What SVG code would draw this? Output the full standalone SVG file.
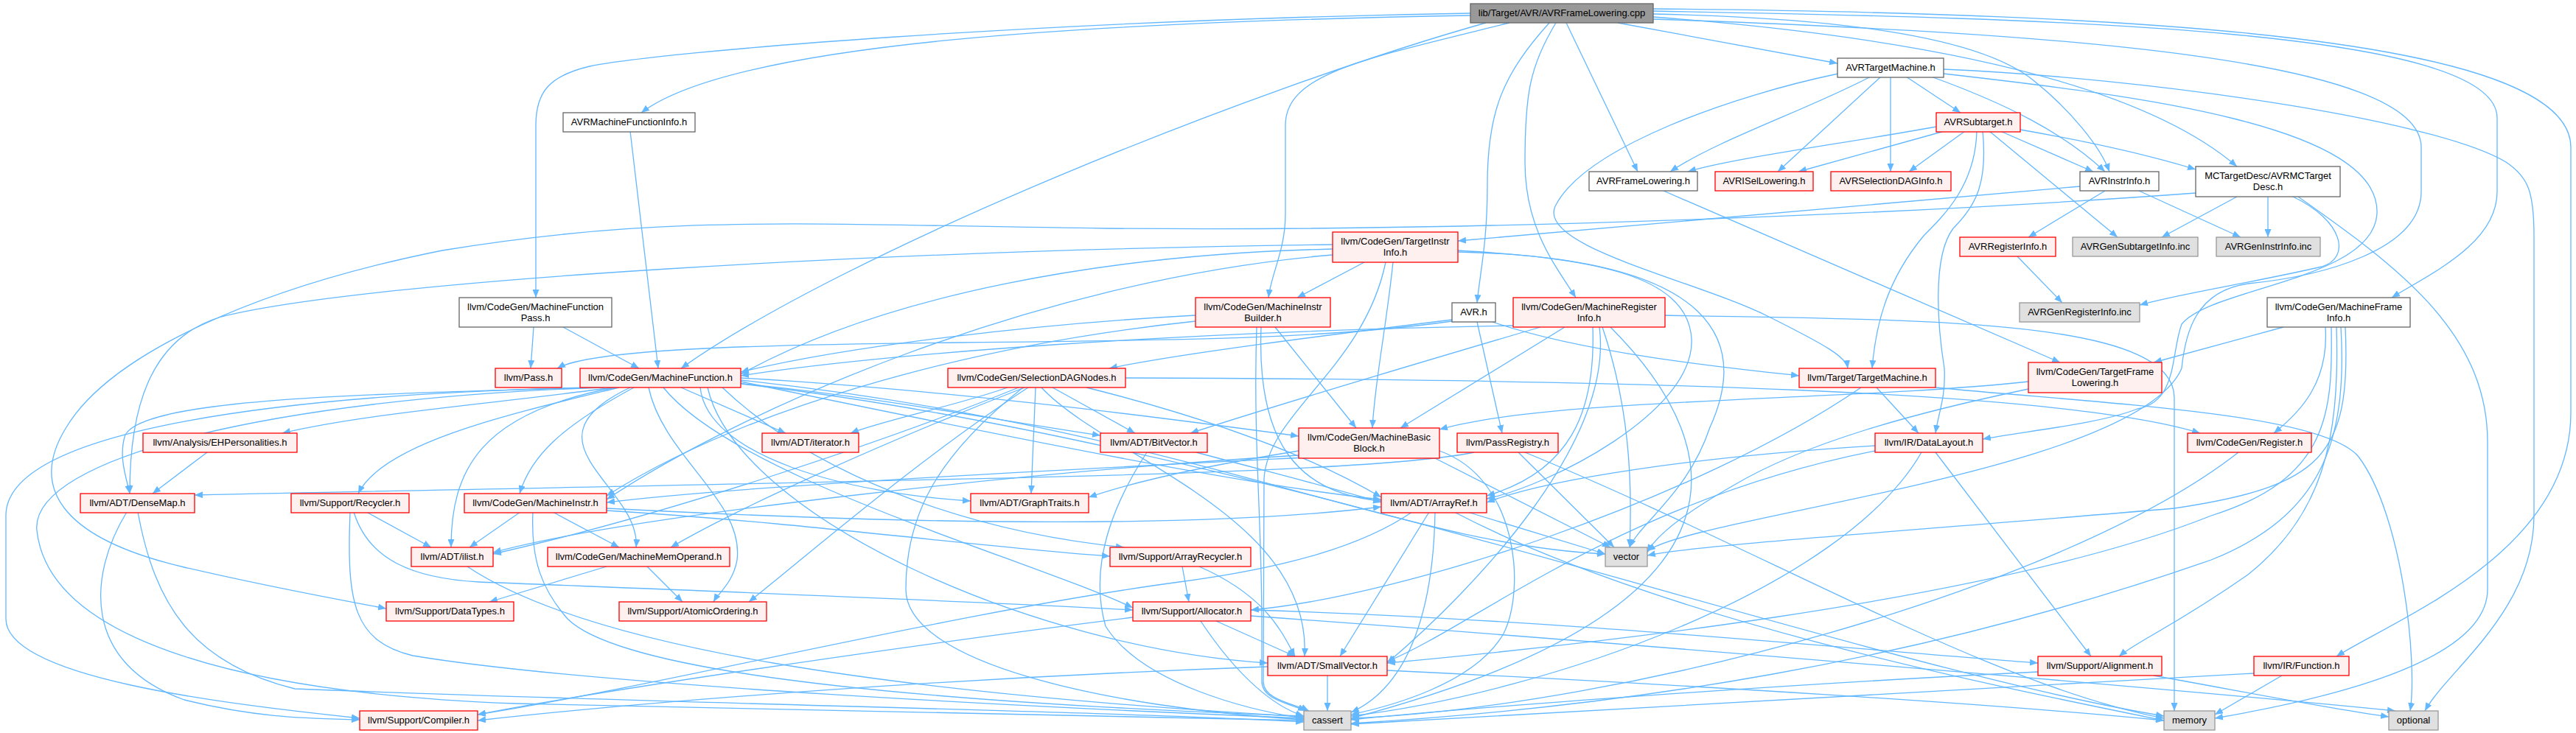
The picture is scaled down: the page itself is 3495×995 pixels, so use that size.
<svg xmlns="http://www.w3.org/2000/svg" width="3495" height="995" viewBox="0 0 3495 995">
<style>
text{font-family:"Liberation Sans",Arial,Helvetica,sans-serif;font-size:13px;text-anchor:middle;fill:#000}
rect{stroke-width:1.3}
.r{fill:#FFF0F0;stroke:#FF0000}
.w{fill:#FFFFFF;stroke:#666666}
.g{fill:#E0E0E0;stroke:#999999}
.t{fill:#999999;stroke:#666666}
#edges path{fill:none;stroke:#63B8FF;stroke-width:1.3;marker-end:url(#ah)}
</style>
<defs>
<marker id="ah" markerUnits="userSpaceOnUse" markerWidth="11" markerHeight="9" refX="11" refY="4.5" orient="auto" viewBox="0 0 11 9"><path d="M0,0L11,4.5L0,9z" fill="#63B8FF"/></marker>
</defs>
<rect x="0" y="0" width="3495" height="995" fill="#FFFFFF"/>
<g id="edges">
<path d="M1995,21 C1500,30 1000,55 870,153"/>
<path d="M1995,18 C1400,28 900,70 800,90 C745,103 727,125 727,170 L727,404"/>
<path d="M2016,31 C1700,120 1150,340 924,500"/>
<path d="M2048,31 C1850,80 1744,100 1744,170 L1744,290 C1744,340 1725,370 1721,404"/>
<path d="M2102,31 C2040,100 2018,150 2018,250 C2018,330 2008,370 2004,411"/>
<path d="M2111,31 C2075,90 2069,130 2069,220 C2069,310 2110,360 2138,404"/>
<path d="M2125,31 L2222,233"/>
<path d="M2195,31 C2300,50 2400,68 2493,86"/>
<path d="M2243,19 C2550,25 2700,60 2760,110 C2810,150 2850,200 2862,233"/>
<path d="M2243,23 C2600,50 2900,110 3035,226"/>
<path d="M2243,15 C2800,25 3388,40 3388,160 L3388,260 C3388,330 3300,370 3245,404"/>
<path d="M2243,12 C2900,18 3488,50 3488,200 L3488,560 C3488,750 3250,840 3170,891"/>
<path d="M2243,26 C2800,45 3285,80 3285,200 L3285,260 C3285,340 3150,375 3050,385 C2980,395 2965,450 2960,500 C2900,640 2300,700 2235,748"/>
<path d="M2538,104 C2450,150 2330,190 2266,233"/>
<path d="M2494,100 C2350,130 2150,200 2110,280 C2085,335 2300,380 2400,430 C2480,470 2505,485 2507,500"/>
<path d="M2552,104 L2412,233"/>
<path d="M2565,104 L2565,233"/>
<path d="M2586,104 L2660,153"/>
<path d="M2620,104 C2720,140 2800,180 2856,233"/>
<path d="M2637,94 C2900,105 3300,160 3400,220 C3430,240 3438,260 3438,320 L3438,700 C3438,830 3320,910 3290,965"/>
<path d="M2637,100 C2900,130 3230,170 3225,290 C3220,380 3000,390 2960,440 C2945,480 2955,545 2900,555 C2850,575 2750,585 2690,596"/>
<path d="M855,178 L893,500"/>
<path d="M2627,172 C2500,195 2350,215 2290,233"/>
<path d="M2638,178 L2440,233"/>
<path d="M2666,178 L2590,233"/>
<path d="M2714,178 L2840,233"/>
<path d="M2699,178 L2873,322"/>
<path d="M2741,176 C2850,195 2920,212 2979,230"/>
<path d="M2682,178 C2680,250 2640,290 2610,320 C2560,380 2545,440 2540,500"/>
<path d="M2690,178 C2697,250 2680,280 2650,310 C2620,350 2630,450 2638,500 C2640,540 2630,560 2626,588"/>
<path d="M2257,259 L2795,492"/>
<path d="M2822,253 C2500,280 2200,310 1978,327"/>
<path d="M2856,259 L2752,322"/>
<path d="M2902,259 L3040,322"/>
<path d="M3035,267 L2933,322"/>
<path d="M3077,267 L3077,322"/>
<path d="M3111,267 C3180,300 3190,350 3150,362 C3050,385 2960,398 2903,414"/>
<path d="M3118,267 C3250,360 3375,450 3375,600 L3375,800 C3375,900 3150,950 3005,975"/>
<path d="M2979,262 C2600,290 2000,315 1500,310 C1100,305 900,290 600,340 C350,390 150,480 90,580 C40,660 80,730 250,770 C380,800 450,812 524,826"/>
<path d="M1851,356 L1760,404"/>
<path d="M1808,338 C1500,345 1200,400 1005,508"/>
<path d="M1890,356 C1880,450 1865,520 1862,581"/>
<path d="M1808,346 C1400,380 1000,560 823,678"/>
<path d="M1978,340 C2150,350 2290,370 2295,460 C2300,560 2100,660 2017,677"/>
<path d="M1808,332 C1200,340 500,380 300,430 C200,460 176,560 176,670"/>
<path d="M1880,356 C1850,500 1720,560 1715,650 L1714,925 C1714,950 1755,955 1776,965"/>
<path d="M1978,342 C2340,350 2370,470 2320,580 C2290,670 2225,710 2211,743"/>
<path d="M2737,348 L2798,411"/>
<path d="M724,444 L720,500"/>
<path d="M764,444 L867,500"/>
<path d="M1622,428 C1400,440 1150,470 1005,505"/>
<path d="M1622,436 C1300,470 1000,560 823,673"/>
<path d="M1730,444 L1840,581"/>
<path d="M1711,444 C1705,600 1760,670 1874,680"/>
<path d="M1705,444 C1700,600 1712,700 1712,850 L1712,925 C1712,950 1750,955 1772,965"/>
<path d="M1970,434 C1800,455 1600,480 1505,500"/>
<path d="M1970,436 C1800,460 1600,462 1300,465 C1000,468 800,475 756,500"/>
<path d="M2004,437 L2038,588"/>
<path d="M2025,437 C2150,480 2350,500 2441,510"/>
<path d="M2053,442 C1600,450 1200,480 1005,510"/>
<path d="M2090,444 C1900,500 1700,560 1615,588"/>
<path d="M2123,444 L1900,581"/>
<path d="M2161,444 C2165,560 2130,640 2017,673"/>
<path d="M2170,444 C2190,600 2000,800 1882,900"/>
<path d="M2174,444 C2210,550 2215,650 2211,743"/>
<path d="M2185,444 C2360,620 2380,830 1833,975"/>
<path d="M2259,428 C2600,435 2950,430 2950,540 L2950,965"/>
<path d="M3098,444 L2922,492"/>
<path d="M3155,444 C3160,520 3120,560 3085,588"/>
<path d="M3163,444 C3165,560 3160,650 3000,700 C2700,820 2100,880 1882,900"/>
<path d="M3170,444 C3175,600 3150,700 3050,780 C2950,850 2900,870 2875,891"/>
<path d="M3176,444 C3185,600 3150,700 3000,760 C2600,900 2200,960 1833,982"/>
<path d="M3182,444 C3190,620 3150,660 2950,690 C2600,720 2300,740 2235,754"/>
<path d="M830,526 C700,545 500,560 383,588"/>
<path d="M812,526 C500,535 200,540 170,590 C160,620 172,650 176,670"/>
<path d="M840,526 C700,560 520,600 486,670"/>
<path d="M800,526 C400,535 8,580 8,700 L8,840 C8,920 300,955 488,975"/>
<path d="M820,526 C380,540 40,620 50,720 C65,860 300,940 700,955 C1200,965 1600,975 1769,978"/>
<path d="M860,526 C760,580 720,620 705,670"/>
<path d="M835,526 C650,560 612,640 612,743"/>
<path d="M855,526 C700,600 870,660 863,743"/>
<path d="M880,526 C900,620 1010,680 1000,760 C995,790 975,805 968,817"/>
<path d="M924,526 L1066,588"/>
<path d="M950,526 C960,620 1150,670 1317,680"/>
<path d="M1000,520 C1200,540 1350,570 1493,591"/>
<path d="M1005,513 C1300,530 1600,570 1762,592"/>
<path d="M1005,518 C1400,600 1700,660 1874,678"/>
<path d="M960,526 C1000,700 1400,880 1720,900"/>
<path d="M980,526 C1100,640 1300,720 1525,743"/>
<path d="M900,526 C1000,650 1400,760 1537,825"/>
<path d="M1005,521 C1700,600 2500,900 2936,972"/>
<path d="M1005,516 C1600,580 1900,740 2178,752"/>
<path d="M1367,526 C1300,550 1200,570 1154,588"/>
<path d="M1382,526 C1200,600 900,700 669,752"/>
<path d="M1390,526 C1200,600 1000,690 910,743"/>
<path d="M1395,526 C1250,620 1100,750 1016,817"/>
<path d="M1388,526 C1270,620 1229,700 1229,800 C1229,900 1500,960 1769,977"/>
<path d="M1405,526 L1399,670"/>
<path d="M1428,526 L1540,588"/>
<path d="M1413,526 C1500,620 1780,700 1770,891"/>
<path d="M1474,526 C1650,570 1780,620 1874,675"/>
<path d="M1527,513 C2200,515 2800,530 2985,588"/>
<path d="M2546,526 L2603,588"/>
<path d="M2525,526 C2300,680 1900,810 1697,828"/>
<path d="M2626,526 C2850,548 3150,560 3200,620 C3260,700 3280,900 3270,965"/>
<path d="M2752,518 C2500,545 2100,540 1953,583"/>
<path d="M2752,528 C2600,560 2450,600 2350,660 C2280,700 2245,730 2235,750"/>
<path d="M281,614 L207,670"/>
<path d="M1623,614 C1720,640 1800,660 1874,682"/>
<path d="M1556,614 C1500,700 1480,780 1500,850 C1550,930 1700,965 1769,975"/>
<path d="M1762,612 C1650,630 1550,650 1477,675"/>
<path d="M1762,618 C1400,640 850,700 669,750"/>
<path d="M1770,621 C1400,640 1000,660 823,682"/>
<path d="M1945,621 L2185,743"/>
<path d="M1953,612 C2060,650 2070,800 2040,860 C2000,930 1880,960 1833,970"/>
<path d="M2000,614 C1850,645 1300,650 264,672"/>
<path d="M2060,614 L2190,743"/>
<path d="M2069,614 C2400,750 2700,930 2936,975"/>
<path d="M2544,605 C2300,620 2100,650 2017,682"/>
<path d="M2544,612 C2200,680 2000,850 1882,898"/>
<path d="M2607,614 C2500,800 2100,940 1833,972"/>
<path d="M2626,614 L2837,891"/>
<path d="M3037,614 C2800,800 2200,960 1833,975"/>
<path d="M172,695 C120,780 110,900 250,950 C350,975 420,975 488,977"/>
<path d="M187,695 C210,820 260,900 400,935 C900,955 1500,965 1769,980"/>
<path d="M497,695 L585,743"/>
<path d="M480,695 C500,760 560,785 650,790 C900,800 1300,815 1537,828"/>
<path d="M475,695 C470,820 480,870 560,890 C800,930 1400,960 1769,975"/>
<path d="M706,695 L637,743"/>
<path d="M750,695 L840,743"/>
<path d="M723,695 C720,760 735,800 770,840 C850,920 1300,955 1769,972"/>
<path d="M823,690 C1300,715 1650,715 1874,688"/>
<path d="M823,693 C1100,710 1350,745 1506,755"/>
<path d="M1939,695 L1818,891"/>
<path d="M1916,695 C1850,740 1750,770 1600,790 C1300,830 900,930 648,970"/>
<path d="M1947,695 C1945,820 1915,930 1833,967"/>
<path d="M1991,695 L2178,752"/>
<path d="M1973,695 C2250,840 2700,930 2936,978"/>
<path d="M634,769 C800,880 1200,940 1769,973"/>
<path d="M823,769 L664,817"/>
<path d="M878,769 L926,817"/>
<path d="M1604,769 L1613,817"/>
<path d="M1627,769 C1720,810 1740,860 1757,891"/>
<path d="M1650,843 L1757,891"/>
<path d="M1629,843 C1680,920 1730,960 1769,972"/>
<path d="M1537,838 C1200,880 800,940 648,970"/>
<path d="M1697,828 C2100,840 2500,880 2765,900"/>
<path d="M1697,836 C2300,880 3000,940 3250,965"/>
<path d="M1801,917 L1801,965"/>
<path d="M1720,905 C1300,920 900,950 648,978"/>
<path d="M1882,910 C2300,930 2700,955 2936,978"/>
<path d="M2765,912 C2400,930 2000,960 1833,977"/>
<path d="M2922,917 C3050,940 3150,960 3241,973"/>
<path d="M3096,917 L3005,970"/>
<path d="M3058,914 C2600,940 2100,965 1833,983"/>
</g>
<g id="n0"><rect class="t" x="1995" y="5" width="248" height="26"/><text x="2119" y="22">lib/Target/AVR/AVRFrameLowering.cpp</text></g>
<g id="n1"><rect class="w" x="2493" y="79" width="144" height="26"/><text x="2565" y="96">AVRTargetMachine.h</text></g>
<g id="n2"><rect class="w" x="764" y="153" width="179" height="26"/><text x="853.5" y="170">AVRMachineFunctionInfo.h</text></g>
<g id="n3"><rect class="r" x="2627" y="153" width="114" height="26"/><text x="2684" y="170">AVRSubtarget.h</text></g>
<g id="n4"><rect class="w" x="2156" y="233" width="147" height="26"/><text x="2229.5" y="250">AVRFrameLowering.h</text></g>
<g id="n5"><rect class="r" x="2327" y="233" width="133" height="26"/><text x="2393.5" y="250">AVRISelLowering.h</text></g>
<g id="n6"><rect class="r" x="2484" y="233" width="163" height="26"/><text x="2565.5" y="250">AVRSelectionDAGInfo.h</text></g>
<g id="n7"><rect class="w" x="2822" y="233" width="107" height="26"/><text x="2875.5" y="250">AVRInstrInfo.h</text></g>
<g id="n8"><rect class="w" x="2979" y="226" width="196" height="41"/><text x="3077" y="243">MCTargetDesc/AVRMCTarget</text><text x="3077" y="258">Desc.h</text></g>
<g id="n9"><rect class="r" x="1808" y="315" width="170" height="41"/><text x="1893" y="332">llvm/CodeGen/TargetInstr</text><text x="1893" y="347">Info.h</text></g>
<g id="n10"><rect class="r" x="2659" y="322" width="130" height="26"/><text x="2724" y="339">AVRRegisterInfo.h</text></g>
<g id="n11"><rect class="g" x="2812" y="322" width="170" height="26"/><text x="2897" y="339">AVRGenSubtargetInfo.inc</text></g>
<g id="n12"><rect class="g" x="3007" y="322" width="141" height="26"/><text x="3077.5" y="339">AVRGenInstrInfo.inc</text></g>
<g id="n13"><rect class="w" x="623" y="404" width="207" height="40"/><text x="726.5" y="421">llvm/CodeGen/MachineFunction</text><text x="726.5" y="436">Pass.h</text></g>
<g id="n14"><rect class="r" x="1622" y="404" width="183" height="40"/><text x="1713.5" y="421">llvm/CodeGen/MachineInstr</text><text x="1713.5" y="436">Builder.h</text></g>
<g id="n15"><rect class="w" x="1970" y="411" width="59" height="26"/><text x="1999.5" y="428">AVR.h</text></g>
<g id="n16"><rect class="r" x="2053" y="404" width="206" height="40"/><text x="2156" y="421">llvm/CodeGen/MachineRegister</text><text x="2156" y="436">Info.h</text></g>
<g id="n17"><rect class="g" x="2740" y="411" width="163" height="26"/><text x="2821.5" y="428">AVRGenRegisterInfo.inc</text></g>
<g id="n18"><rect class="w" x="3076" y="404" width="194" height="40"/><text x="3173" y="421">llvm/CodeGen/MachineFrame</text><text x="3173" y="436">Info.h</text></g>
<g id="n19"><rect class="r" x="672" y="500" width="90" height="26"/><text x="717" y="517">llvm/Pass.h</text></g>
<g id="n20"><rect class="r" x="787" y="500" width="218" height="26"/><text x="896" y="517">llvm/CodeGen/MachineFunction.h</text></g>
<g id="n21"><rect class="r" x="1286" y="500" width="241" height="26"/><text x="1406.5" y="517">llvm/CodeGen/SelectionDAGNodes.h</text></g>
<g id="n22"><rect class="r" x="2441" y="500" width="185" height="26"/><text x="2533.5" y="517">llvm/Target/TargetMachine.h</text></g>
<g id="n23"><rect class="r" x="2752" y="492" width="181" height="41"/><text x="2842.5" y="509">llvm/CodeGen/TargetFrame</text><text x="2842.5" y="524">Lowering.h</text></g>
<g id="n24"><rect class="r" x="194" y="588" width="209" height="26"/><text x="298.5" y="605">llvm/Analysis/EHPersonalities.h</text></g>
<g id="n25"><rect class="r" x="1034" y="588" width="131" height="26"/><text x="1099.5" y="605">llvm/ADT/iterator.h</text></g>
<g id="n26"><rect class="r" x="1493" y="588" width="145" height="26"/><text x="1565.5" y="605">llvm/ADT/BitVector.h</text></g>
<g id="n27"><rect class="r" x="1762" y="581" width="191" height="41"/><text x="1857.5" y="598">llvm/CodeGen/MachineBasic</text><text x="1857.5" y="613">Block.h</text></g>
<g id="n28"><rect class="r" x="1977" y="588" width="137" height="26"/><text x="2045.5" y="605">llvm/PassRegistry.h</text></g>
<g id="n29"><rect class="r" x="2544" y="588" width="146" height="26"/><text x="2617" y="605">llvm/IR/DataLayout.h</text></g>
<g id="n30"><rect class="r" x="2968" y="588" width="168" height="26"/><text x="3052" y="605">llvm/CodeGen/Register.h</text></g>
<g id="n31"><rect class="r" x="109" y="670" width="155" height="26"/><text x="186.5" y="687">llvm/ADT/DenseMap.h</text></g>
<g id="n32"><rect class="r" x="395" y="670" width="160" height="26"/><text x="475" y="687">llvm/Support/Recycler.h</text></g>
<g id="n33"><rect class="r" x="630" y="670" width="193" height="26"/><text x="726.5" y="687">llvm/CodeGen/MachineInstr.h</text></g>
<g id="n34"><rect class="r" x="1317" y="670" width="160" height="26"/><text x="1397" y="687">llvm/ADT/GraphTraits.h</text></g>
<g id="n35"><rect class="r" x="1874" y="670" width="143" height="26"/><text x="1945.5" y="687">llvm/ADT/ArrayRef.h</text></g>
<g id="n36"><rect class="r" x="558" y="743" width="111" height="26"/><text x="613.5" y="760">llvm/ADT/ilist.h</text></g>
<g id="n37"><rect class="r" x="743" y="743" width="247" height="26"/><text x="866.5" y="760">llvm/CodeGen/MachineMemOperand.h</text></g>
<g id="n38"><rect class="r" x="1506" y="743" width="191" height="26"/><text x="1601.5" y="760">llvm/Support/ArrayRecycler.h</text></g>
<g id="n39"><rect class="g" x="2178" y="743" width="57" height="26"/><text x="2206.5" y="760">vector</text></g>
<g id="n40"><rect class="r" x="524" y="817" width="173" height="26"/><text x="610.5" y="834">llvm/Support/DataTypes.h</text></g>
<g id="n41"><rect class="r" x="840" y="817" width="200" height="26"/><text x="940" y="834">llvm/Support/AtomicOrdering.h</text></g>
<g id="n42"><rect class="r" x="1537" y="817" width="160" height="26"/><text x="1617" y="834">llvm/Support/Allocator.h</text></g>
<g id="n43"><rect class="r" x="1720" y="891" width="162" height="26"/><text x="1801" y="908">llvm/ADT/SmallVector.h</text></g>
<g id="n44"><rect class="r" x="2765" y="891" width="168" height="26"/><text x="2849" y="908">llvm/Support/Alignment.h</text></g>
<g id="n45"><rect class="r" x="3058" y="891" width="129" height="26"/><text x="3122.5" y="908">llvm/IR/Function.h</text></g>
<g id="n46"><rect class="r" x="488" y="965" width="160" height="26"/><text x="568" y="982">llvm/Support/Compiler.h</text></g>
<g id="n47"><rect class="g" x="1769" y="965" width="64" height="26"/><text x="1801" y="982">cassert</text></g>
<g id="n48"><rect class="g" x="2936" y="965" width="69" height="26"/><text x="2970.5" y="982">memory</text></g>
<g id="n49"><rect class="g" x="3241" y="965" width="67" height="26"/><text x="3274.5" y="982">optional</text></g>
</svg>
